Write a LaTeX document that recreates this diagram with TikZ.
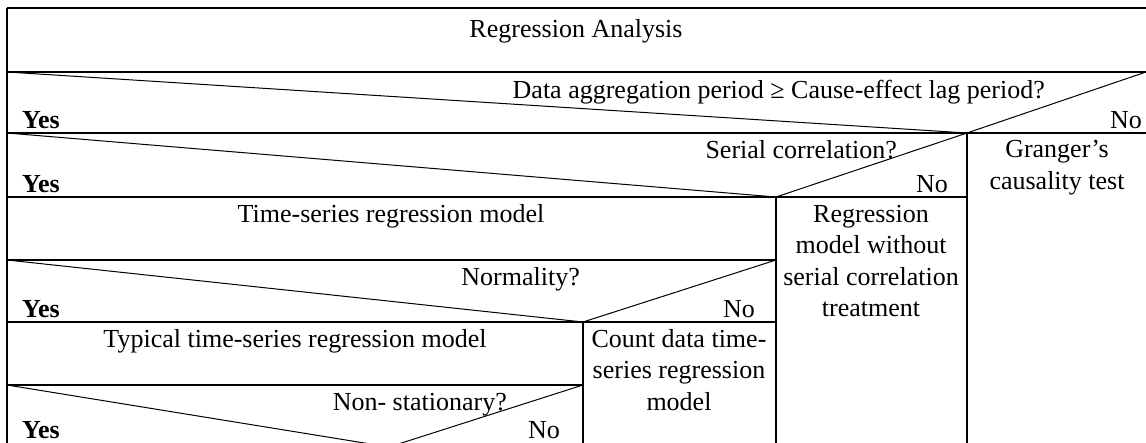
\documentclass[tikz,border=0pt]{standalone}
\usepackage{fontspec}
\setmainfont{Liberation Serif}
\begin{document}
\begin{tikzpicture}[x=1pt,y=-1pt,
  boxline/.style={line width=2pt},
  diagline/.style={line width=1pt},
  txt/.style={font=\fontsize{26}{30}\selectfont, inner sep=0pt, anchor=base},
  txtr/.style={txt, anchor=base east},
  txtl/.style={txt, anchor=base west},
  yes/.style={txtl, font=\fontsize{26}{30}\selectfont\bfseries}]
\useasboundingbox (0,0) rectangle (1146,442);
\clip (0,0) rectangle (1146,442);
% frame coordinates
\coordinate (TL) at (7,8);
\coordinate (TR) at (1150,8);
\coordinate (A0) at (7,72);   \coordinate (A1) at (1150,72);
\coordinate (B0) at (7,133);  \coordinate (B1) at (1150,133);
\coordinate (C0) at (7,197);  \coordinate (C1) at (967,197);
\coordinate (D0) at (7,260);  \coordinate (D1) at (776,260);
\coordinate (E0) at (7,322);  \coordinate (E1) at (776,322);
\coordinate (F0) at (7,385);  \coordinate (F1) at (583,385);
\coordinate (BL) at (7,450);
\coordinate (V1t) at (967,133); \coordinate (V1b) at (967,450);
\coordinate (V2t) at (776,197); \coordinate (V2b) at (776,450);
\coordinate (V3t) at (583,322); \coordinate (V3b) at (583,450);
\coordinate (M4) at (389,447);
\coordinate (R1) at (1146,72);
% box lines
\draw[boxline] (TL) -- (TR);
\draw[boxline] (TL) -- (BL);
\draw[boxline] (A0) -- (A1);
\draw[boxline] (B0) -- (B1);
\draw[boxline] (C0) -- (C1);
\draw[boxline] (D0) -- (D1);
\draw[boxline] (E0) -- (E1);
\draw[boxline] (F0) -- (F1);
\draw[boxline] (V1t) -- (V1b);
\draw[boxline] (V2t) -- (V2b);
\draw[boxline] (V3t) -- (V3b);
% diagonals
\draw[diagline] (A0) -- (V1t) -- (R1);
\draw[diagline] (B0) -- (V2t) -- (V1t);
\draw[diagline] (D0) -- (V3t) -- (D1);
\draw[diagline] (F0) -- (M4) -- (F1);
% texts
\node[txt] (title) at (576,37) {Regression Analysis};
\node[txtr] (q1) at (1045,98) {Data aggregation period ≥ Cause-effect lag period?};
\node[yes] (yes1) at (22,128.5) {Yes};
\node[txtr] (no1) at (1142,128.5) {No};
\node[txtr] (q2) at (897,158.5) {Serial correlation?};
\node[yes] (yes2) at (22,192) {Yes};
\node[txtr] (no2) at (948,192) {No};
\node[txt] (gr1) at (1057,157) {Granger’s};
\node[txt] (gr2) at (1057,189) {causality test};
\node[txt] (ts) at (391,222) {Time-series regression model};
\node[txt] (rg1) at (871,222) {Regression};
\node[txt] (rg2) at (871,253.5) {model without};
\node[txt] (rg3) at (871,285) {serial correlation};
\node[txt] (rg4) at (871,316.5) {treatment};
\node[txtr] (q3) at (580,285.5) {Normality?};
\node[yes] (yes3) at (22,317.5) {Yes};
\node[txtr] (no3) at (755,317.5) {No};
\node[txt] (typ) at (295,347) {Typical time-series regression model};
\node[txt] (cd1) at (679,347) {Count data time-};
\node[txt] (cd2) at (679,378.5) {series regression};
\node[txt] (cd3) at (679,410) {model};
\node[txtr] (q4) at (507,410.5) {Non- stationary?};
\node[yes] (yes4) at (22,438) {Yes};
\node[txtr] (no4) at (560,438) {No};
\end{tikzpicture}
\end{document}
